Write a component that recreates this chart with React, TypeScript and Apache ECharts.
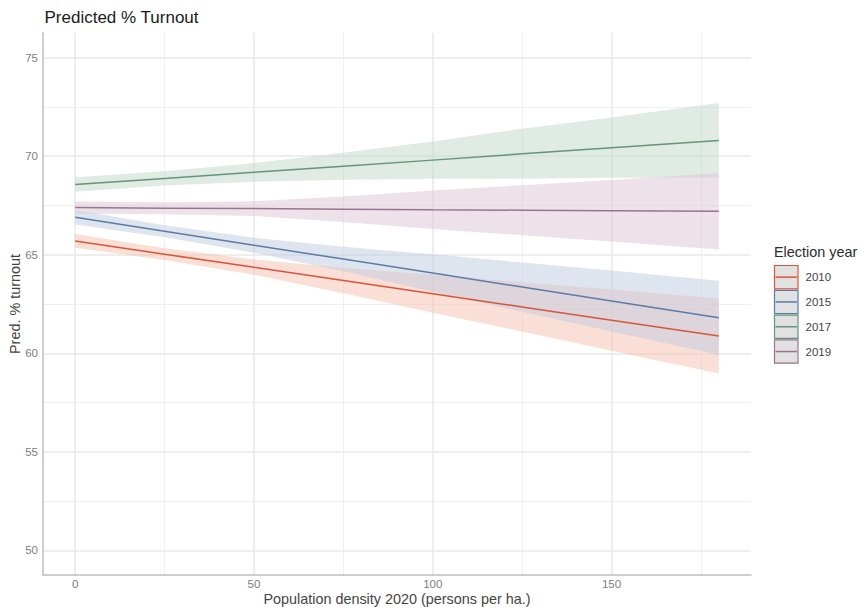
import React, { useEffect, useRef } from "react";
import * as echarts from "echarts";

const FONT = "'Liberation Sans', Arial, Helvetica, sans-serif";

const years = ["2010", "2015", "2017", "2019"];
const densityX = [0, 25, 50, 75, 100, 125, 150, 180];

const fit2010 = [65.7, 65.03, 64.36, 63.69, 63.02, 62.35, 61.68, 60.88];
const lo2010 = [65.35, 64.73, 63.98, 63.04, 62.05, 61.1, 60.13, 58.98];
const hi2010 = [66.05, 65.33, 64.76, 64.34, 63.99, 63.6, 63.23, 62.78];

const fit2015 = [66.9, 66.19, 65.48, 64.78, 64.07, 63.36, 62.65, 61.8];
const lo2015 = [66.53, 65.89, 65.1, 64.16, 63.12, 62.11, 61.1, 59.92];
const hi2015 = [67.27, 66.49, 65.86, 65.4, 65.02, 64.61, 64.2, 63.68];

const fit2017 = [68.56, 68.87, 69.18, 69.49, 69.8, 70.12, 70.43, 70.8];
const lo2017 = [68.19, 68.51, 68.7, 68.81, 68.85, 68.85, 68.9, 68.9];
const hi2017 = [68.93, 69.23, 69.66, 70.17, 70.75, 71.39, 71.96, 72.7];

const fit2019 = [67.39, 67.36, 67.34, 67.31, 67.28, 67.26, 67.23, 67.2];
const lo2019 = [67.08, 67.06, 66.97, 66.66, 66.3, 65.99, 65.67, 65.27];
const hi2019 = [67.7, 67.66, 67.71, 67.96, 68.26, 68.53, 68.79, 69.13];

const fits = [fit2010, fit2015, fit2017, fit2019];
const lows = [lo2010, lo2015, lo2017, lo2019];
const highs = [hi2010, hi2015, hi2017, hi2019];

const lineColors = ["#d9553a", "#5a7ca9", "#62957a", "#9a738f"];
const ribbonColors = [
  "rgba(245,191,173,0.5)",
  "rgba(191,203,223,0.5)",
  "rgba(193,215,201,0.5)",
  "rgba(219,197,213,0.5)",
];

export default function App() {
  const ref = useRef<HTMLDivElement>(null);

  useEffect(() => {
    if (!ref.current) return;
    const chart = echarts.init(ref.current, null, { renderer: "svg" });

    const ribbonSeries = years.map((yr, k) => ({
      type: "custom",
      name: yr + " CI",
      coordinateSystem: "cartesian2d",
      silent: true,
      z: 1,
      data: densityX.map((x, i) => [x, lows[k][i], highs[k][i]]),
      encode: { x: 0, y: [1, 2] },
      renderItem: (params: any, api: any) => {
        if (params.dataIndex !== 0) return null;
        const upper = densityX.map((x, i) => api.coord([x, highs[k][i]]));
        const lower = densityX
          .map((x, i) => api.coord([x, lows[k][i]]))
          .reverse();
        return {
          type: "polygon",
          shape: { points: upper.concat(lower) },
          style: { fill: ribbonColors[k], stroke: "none" },
        };
      },
    }));

    const lineSeries = years.map((yr, k) => ({
      type: "line",
      name: yr,
      silent: true,
      z: 3,
      symbol: "none",
      showSymbol: false,
      data: densityX.map((x, i) => [x, fits[k][i]]),
      lineStyle: { color: lineColors[k], width: 1.5 },
      itemStyle: { color: lineColors[k] },
    }));

    const keyTop = 265.5;
    const keyStep = 24.8;
    const keyH = 23.3;
    const legendGraphics: any[] = [
      {
        type: "text",
        x: 774,
        y: 252,
        style: {
          text: "Election year",
          fontSize: 14.4,
          fontFamily: FONT,
          fill: "#2b2b2b",
          verticalAlign: "middle",
          textVerticalAlign: "middle",
        },
      },
    ];
    years.forEach((yr, i) => {
      const top = keyTop + i * keyStep;
      const cy = top + keyH / 2;
      legendGraphics.push(
        {
          type: "rect",
          shape: { x: 774.5, y: top, width: 23.5, height: keyH },
          style: { fill: "#e1e1e1", stroke: lineColors[i], lineWidth: 1.2 },
        },
        {
          type: "line",
          shape: { x1: 775.5, y1: cy, x2: 797, y2: cy },
          style: { stroke: lineColors[i], lineWidth: 1.5 },
        },
        {
          type: "text",
          x: 805.5,
          y: cy,
          style: {
            text: yr,
            fontSize: 11.5,
            fontFamily: FONT,
            fill: "#444444",
            verticalAlign: "middle",
            textVerticalAlign: "middle",
          },
        }
      );
    });

    const axisLabelBase = {
      color: "#7d7d7d",
      fontSize: 11.5,
      fontFamily: FONT,
      showMinLabel: false,
      showMaxLabel: false,
    };

    chart.setOption({
      animation: false,
      backgroundColor: "#ffffff",
      title: {
        text: "Predicted % Turnout",
        left: 44.5,
        top: 8.5,
        padding: 0,
        textStyle: {
          fontSize: 17,
          fontWeight: "normal",
          color: "#1a1a1a",
          fontFamily: FONT,
        },
      },
      grid: {
        left: 43,
        top: 33,
        width: 708,
        height: 542,
        containLabel: false,
        outerBoundsMode: "none",
      },
      xAxis: {
        type: "value",
        min: -9,
        max: 189,
        splitNumber: 4,
        name: "Population density 2020 (persons per ha.)",
        nameLocation: "middle",
        nameGap: 24,
        nameMoveOverlap: false,
        nameTextStyle: {
          fontSize: 14.4,
          color: "#444444",
          fontFamily: FONT,
          verticalAlign: "middle",
        },
        axisLine: {
          show: true,
          onZero: false,
          lineStyle: { color: "#bebebe", width: 1.5 },
        },
        axisTick: { show: false },
        axisLabel: {
          ...axisLabelBase,
          margin: 3,
          formatter: (v: number) => (v % 50 === 0 ? String(v) : ""),
        },
        splitLine: {
          show: true,
          showMinLine: false,
          showMaxLine: false,
          lineStyle: { color: "#e9e9e9", width: 1.5 },
        },
        minorTick: { show: false, splitNumber: 2 },
        minorSplitLine: {
          show: true,
          lineStyle: { color: "#ececec", width: 0.8 },
        },
      },
      yAxis: {
        type: "value",
        min: 48.75,
        max: 76.25,
        splitNumber: 5,
        name: "Pred. % turnout",
        nameLocation: "middle",
        nameGap: 28,
        nameMoveOverlap: false,
        nameTextStyle: {
          fontSize: 14.4,
          color: "#444444",
          fontFamily: FONT,
          verticalAlign: "middle",
        },
        axisLine: {
          show: true,
          onZero: false,
          lineStyle: { color: "#bebebe", width: 1.5 },
        },
        axisTick: { show: false },
        axisLabel: {
          ...axisLabelBase,
          margin: 5,
          formatter: (v: number) => (v % 5 === 0 ? String(v) : ""),
        },
        splitLine: {
          show: true,
          showMinLine: false,
          showMaxLine: false,
          lineStyle: { color: "#e9e9e9", width: 1.5 },
        },
        minorTick: { show: false, splitNumber: 2 },
        minorSplitLine: {
          show: true,
          lineStyle: { color: "#ececec", width: 0.8 },
        },
      },
      graphic: legendGraphics,
      series: [...ribbonSeries, ...lineSeries],
    });

    return () => {
      chart.dispose();
    };
  }, []);

  return (
    <div
      ref={ref}
      style={{ position: "fixed", left: 0, top: 0, width: 861, height: 608 }}
    />
  );
}
